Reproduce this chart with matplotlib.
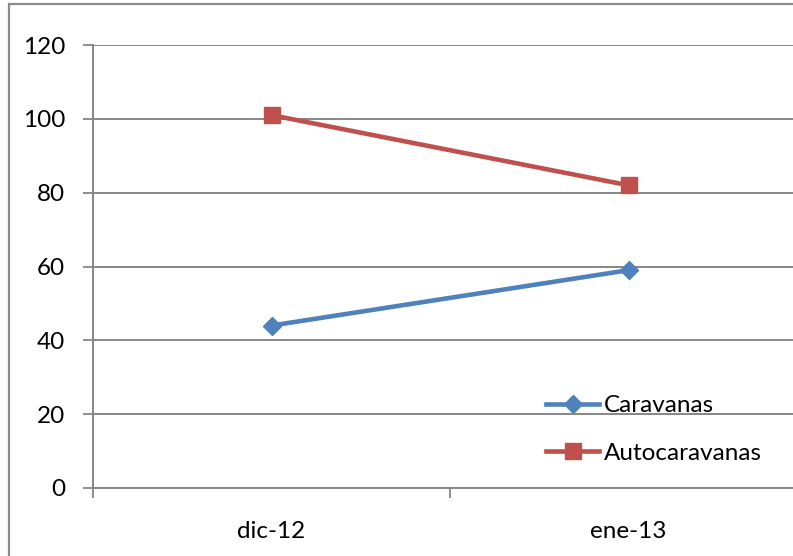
import matplotlib.pyplot as plt
from matplotlib.patches import Rectangle

# --- Data ---
months = ['dic-12', 'ene-13']
caravanas = [44, 59]
autocaravanas = [101, 82]

plt.rcParams['font.family'] = ['Lato', 'DejaVu Sans']

W, H = 793, 556
fig = plt.figure(figsize=(W / 100, H / 100), dpi=100)

# outer chart border (right and bottom are cut off in the original)
fig.patches.append(Rectangle((9 / W, -0.1), 1.2, (H - 4) / H + 0.1, transform=fig.transFigure,
                             fill=False, edgecolor='#8c8c8c', linewidth=1.6))

# plot area extends past the right edge of the image
ax = fig.add_axes([93 / W, (H - 488) / H, 714 / W, 443 / H])

x = range(len(months))
ax.plot(x, caravanas, color='#4F81BD', linewidth=3.3, marker='D', markersize=9.5,
        label='Caravanas', zorder=3)
ax.plot(x, autocaravanas, color='#C0504D', linewidth=3.3, marker='s', markersize=11.5,
        label='Autocaravanas', zorder=3)

ax.set_xlim(-0.5, len(months) - 0.5)
ax.set_ylim(0, 120)
ax.set_yticks(range(0, 121, 20))
ax.set_xticks(list(x))
ax.set_xticklabels(months)
ax.set_xticks([-0.5, 0.5, 1.5], minor=True)
ax.tick_params(axis='x', which='major', length=0, pad=24, labelsize=17.5)
ax.tick_params(axis='x', which='minor', length=7, width=1.3, color='#868686')
ax.tick_params(axis='y', length=7, width=1.3, color='#868686', pad=13, labelsize=17.5)

ax.grid(axis='y', color='#868686', linewidth=1.4)
ax.set_axisbelow(True)
for s in ['top', 'right']:
    ax.spines[s].set_visible(False)
for s in ['left', 'bottom']:
    ax.spines[s].set_color('#868686')
    ax.spines[s].set_linewidth(1.4)

ax.legend(loc='upper left', bbox_to_anchor=(546 / W, 1 - 395 / H), bbox_transform=fig.transFigure,
          frameon=False, fontsize=17.5, handlelength=2.2, handletextpad=0.18, labelspacing=1.1,
          borderaxespad=0, borderpad=0)

fig.savefig('out.png', dpi=100)
